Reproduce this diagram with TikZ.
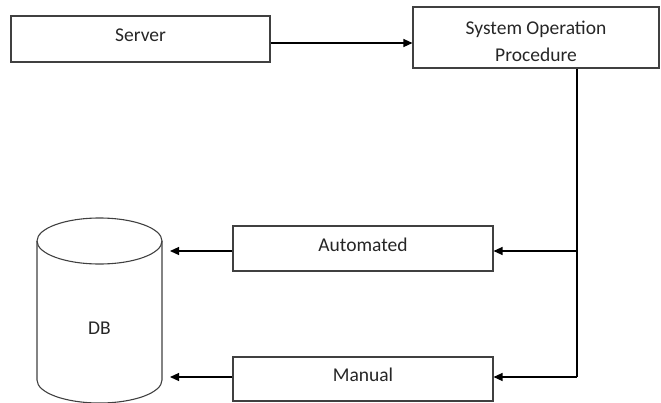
\documentclass[tikz,border=0pt]{standalone}
\usepackage{fontspec}
\setmainfont{Carlito}
\usepackage{tikz}
\usetikzlibrary{arrows.meta}

\begin{document}
\begin{tikzpicture}[x=1pt,y=1pt,
    box/.style={draw=black!75, line width=1.1pt, rectangle, inner sep=0pt},
    conn/.style={line width=1.2pt},
    arr/.style={conn, -{Triangle[length=9pt,width=8pt]}}]
    \tikzstyle{every node}+=[font=\fontsize{19.5}{27}\selectfont, text=black!85]
    \useasboundingbox (0,0) rectangle (661,-402);
    % boxes
    \node [box, minimum width=259pt, minimum height=46pt, text depth=8pt] (srv) at (140.5,-39) {Server};
    \node [box, minimum width=246pt, minimum height=61pt] (sop) at (536,-37.5) {};
    \node [align=center] (sopt) at ([yshift=-4pt]sop.center) {System Operation\\Procedure};
    \node [box, minimum width=260pt, minimum height=45pt, text depth=8pt] (auto) at (363,-248.5) {Automated};
    \node [box, minimum width=260pt, minimum height=44pt, text depth=8pt] (man) at (363,-379) {Manual};
    % DB
    \draw [black!75, line width=1.1pt] (99.5,-241) ellipse (62.5 and 23);
    \draw [black!75, line width=1.1pt] (37,-241) -- (37,-380) arc (180:360:62.5 and 23) -- (162,-241);
    \node (db) at (99.5,-328) {DB};
    % connectors
    \coordinate (jA) at (577,-251);
    \coordinate (jM) at (577,-377);
    \coordinate (dbA) at (170,-251);
    \coordinate (dbM) at (170,-377);
    \draw [arr] ([yshift=-4pt]srv.east) -- ([yshift=-4pt]srv.east -| sop.west);
    \draw [conn] (jA |- sop.south) -- (jM);
    \draw [arr] (jA) -- (auto.east |- jA);
    \draw [arr] (jM) -- (man.east |- jM);
    \draw [arr] (auto.west |- jA) -- (dbA);
    \draw [arr] (man.west |- jM) -- (dbM);
\end{tikzpicture}
\end{document}
